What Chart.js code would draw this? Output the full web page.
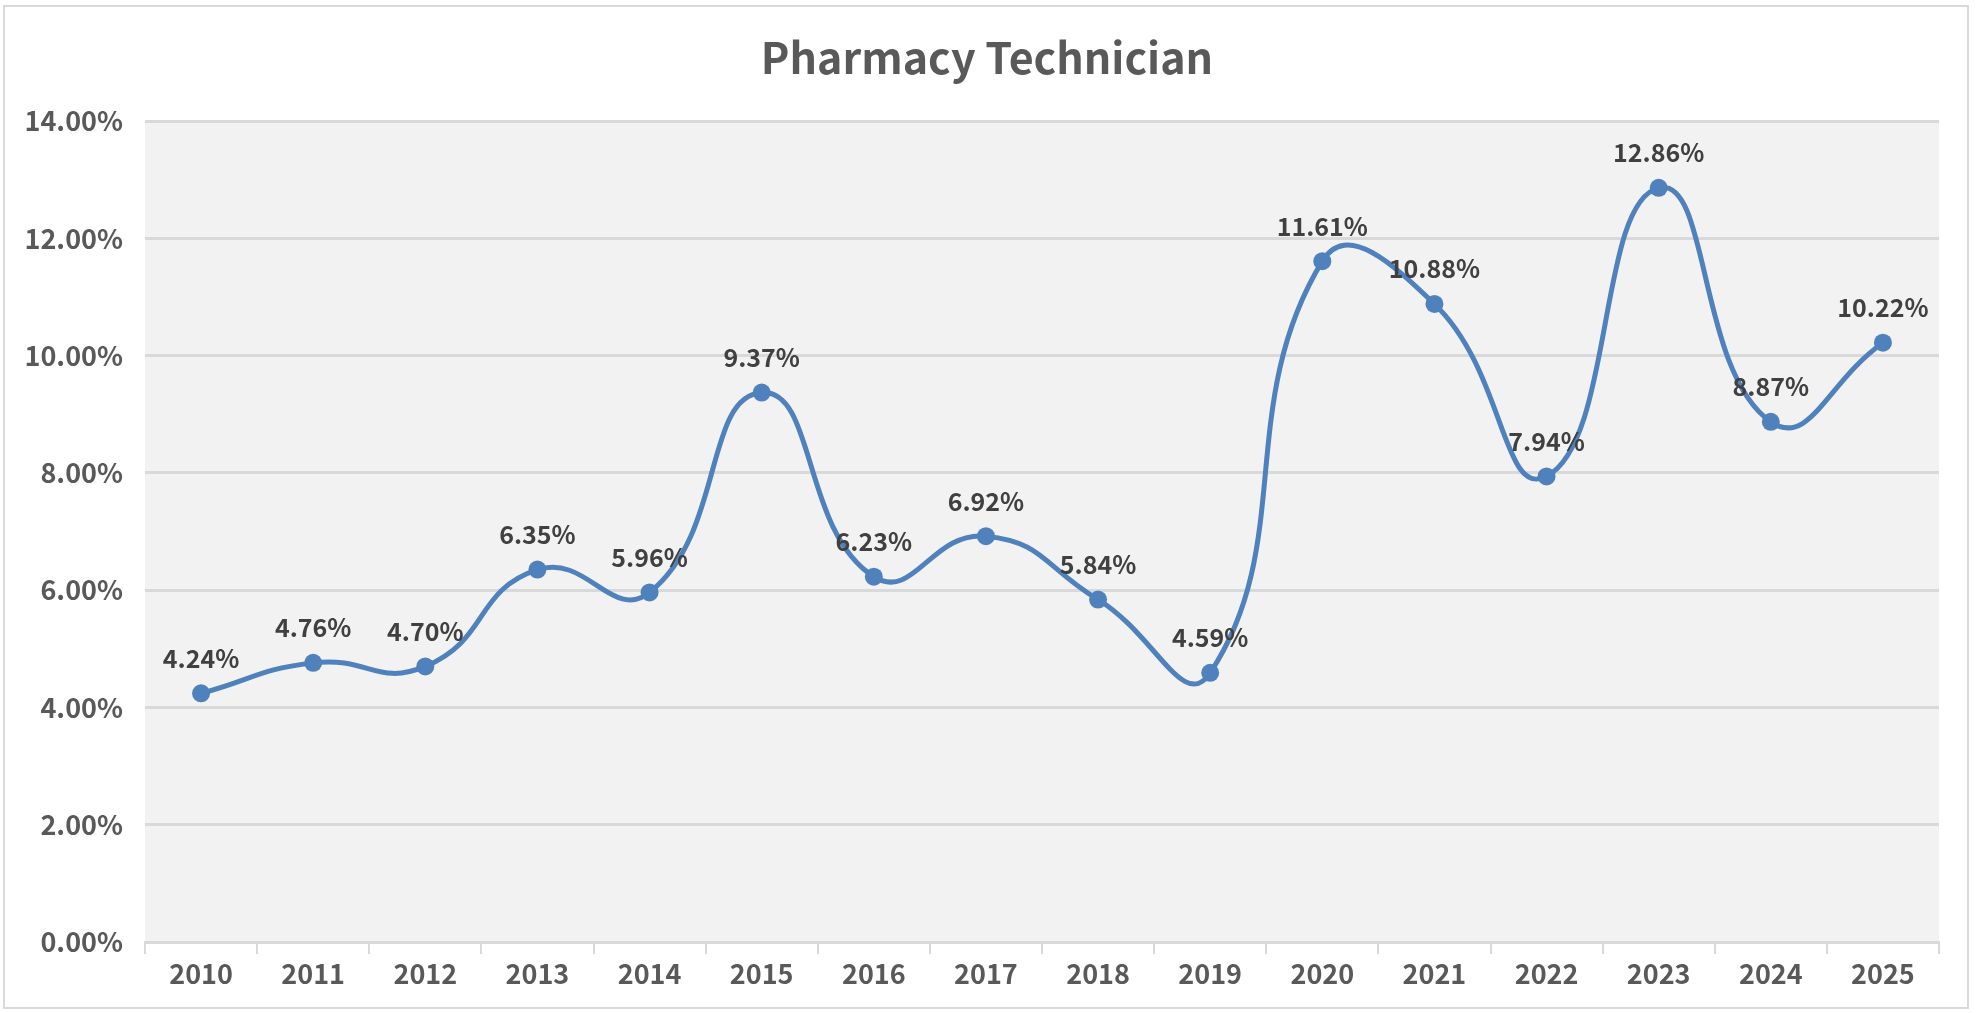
<!DOCTYPE html>
<html>
<head>
<meta charset="utf-8">
<script src="https://cdn.jsdelivr.net/npm/chart.js@4.4.0/dist/chart.umd.min.js"></script>
<style>
  html,body{margin:0;padding:0;background:#fff;}
  #wrap{position:absolute;left:3px;top:5px;width:1966px;height:1004px;border:2px solid #d9d9d9;box-sizing:border-box;}
  #c{position:absolute;left:0;top:0;}
</style>
</head>
<body>
<div id="wrap"></div>
<canvas id="c" width="1981" height="1013"></canvas>
<script>
// data
const years = ['2010','2011','2012','2013','2014','2015','2016','2017','2018','2019','2020','2021','2022','2023','2024','2025'];
const rates = [4.24, 4.76, 4.70, 6.35, 5.96, 9.37, 6.23, 6.92, 5.84, 4.59, 11.61, 10.88, 7.94, 12.86, 8.87, 10.22];
const yMin = 0, yMax = 14, yStep = 2;
const chartTitle = 'Pharmacy Technician';

const FONT = '"Noto Sans CJK SC", "Noto Sans", sans-serif';

// plot background
const plotBg = {
  id:'plotBg',
  beforeDraw(chart){
    const {ctx, chartArea:a} = chart;
    ctx.save(); ctx.fillStyle='#f2f2f2';
    ctx.fillRect(a.left, a.top, a.right-a.left, a.bottom-a.top);
    ctx.restore();
  }
};

// title centred on the whole chart box (not the plot)
const boxTitle = {
  id:'boxTitle',
  afterDraw(chart){
    const ctx=chart.ctx;
    ctx.save();
    ctx.font='bold 43px '+FONT; ctx.fillStyle='#595959';
    ctx.textAlign='center'; ctx.textBaseline='middle';
    ctx.fillText(chartTitle, 987, 58);
    ctx.restore();
  }
};

// value labels above the points
const valueLabels = {
  id:'valueLabels',
  afterDatasetsDraw(chart){
    const ctx=chart.ctx, meta=chart.getDatasetMeta(0);
    ctx.save();
    ctx.font='bold 25px '+FONT; ctx.fillStyle='#404040';
    ctx.textAlign='center'; ctx.textBaseline='middle';
    meta.data.forEach((pt,i)=>{
      ctx.fillText(rates[i].toFixed(2)+'%', pt.x, pt.y-35);
    });
    ctx.restore();
  }
};

new Chart(document.getElementById('c').getContext('2d'), {
  type:'line',
  data:{
    labels:years,
    datasets:[{
      data:rates,
      borderColor:'#4f81bd', backgroundColor:'#4f81bd',
      borderWidth:5, tension:0.5,
      pointRadius:9, pointHoverRadius:9, pointBorderWidth:0,
      clip:false
    }]
  },
  options:{
    responsive:false, animation:false,
    layout:{padding:{left:0,right:42,top:121,bottom:0}},
    plugins:{
      legend:{display:false}, tooltip:{enabled:false}, title:{display:false}
    },
    scales:{
      x:{
        offset:true,
        grid:{offset:true, drawOnChartArea:false, drawTicks:true, tickLength:12, color:'#d9d9d9', lineWidth:2},
        border:{display:true, color:'#d9d9d9', width:3},
        ticks:{color:'#595959', font:{family:FONT, size:27, weight:'bold'}, padding:4},
        afterFit(s){ s.height = 71; }
      },
      y:{
        min:yMin, max:yMax,
        ticks:{stepSize:yStep, color:'#595959', font:{family:FONT, size:27, weight:'bold'}, padding:22,
          callback:v=>v.toFixed(2)+'%'},
        grid:{color:'#d9d9d9', lineWidth:3, drawTicks:false},
        border:{display:false},
        afterFit(s){ s.width = 145; }
      }
    }
  },
  plugins:[plotBg, valueLabels, boxTitle]
});
</script>
</body>
</html>
